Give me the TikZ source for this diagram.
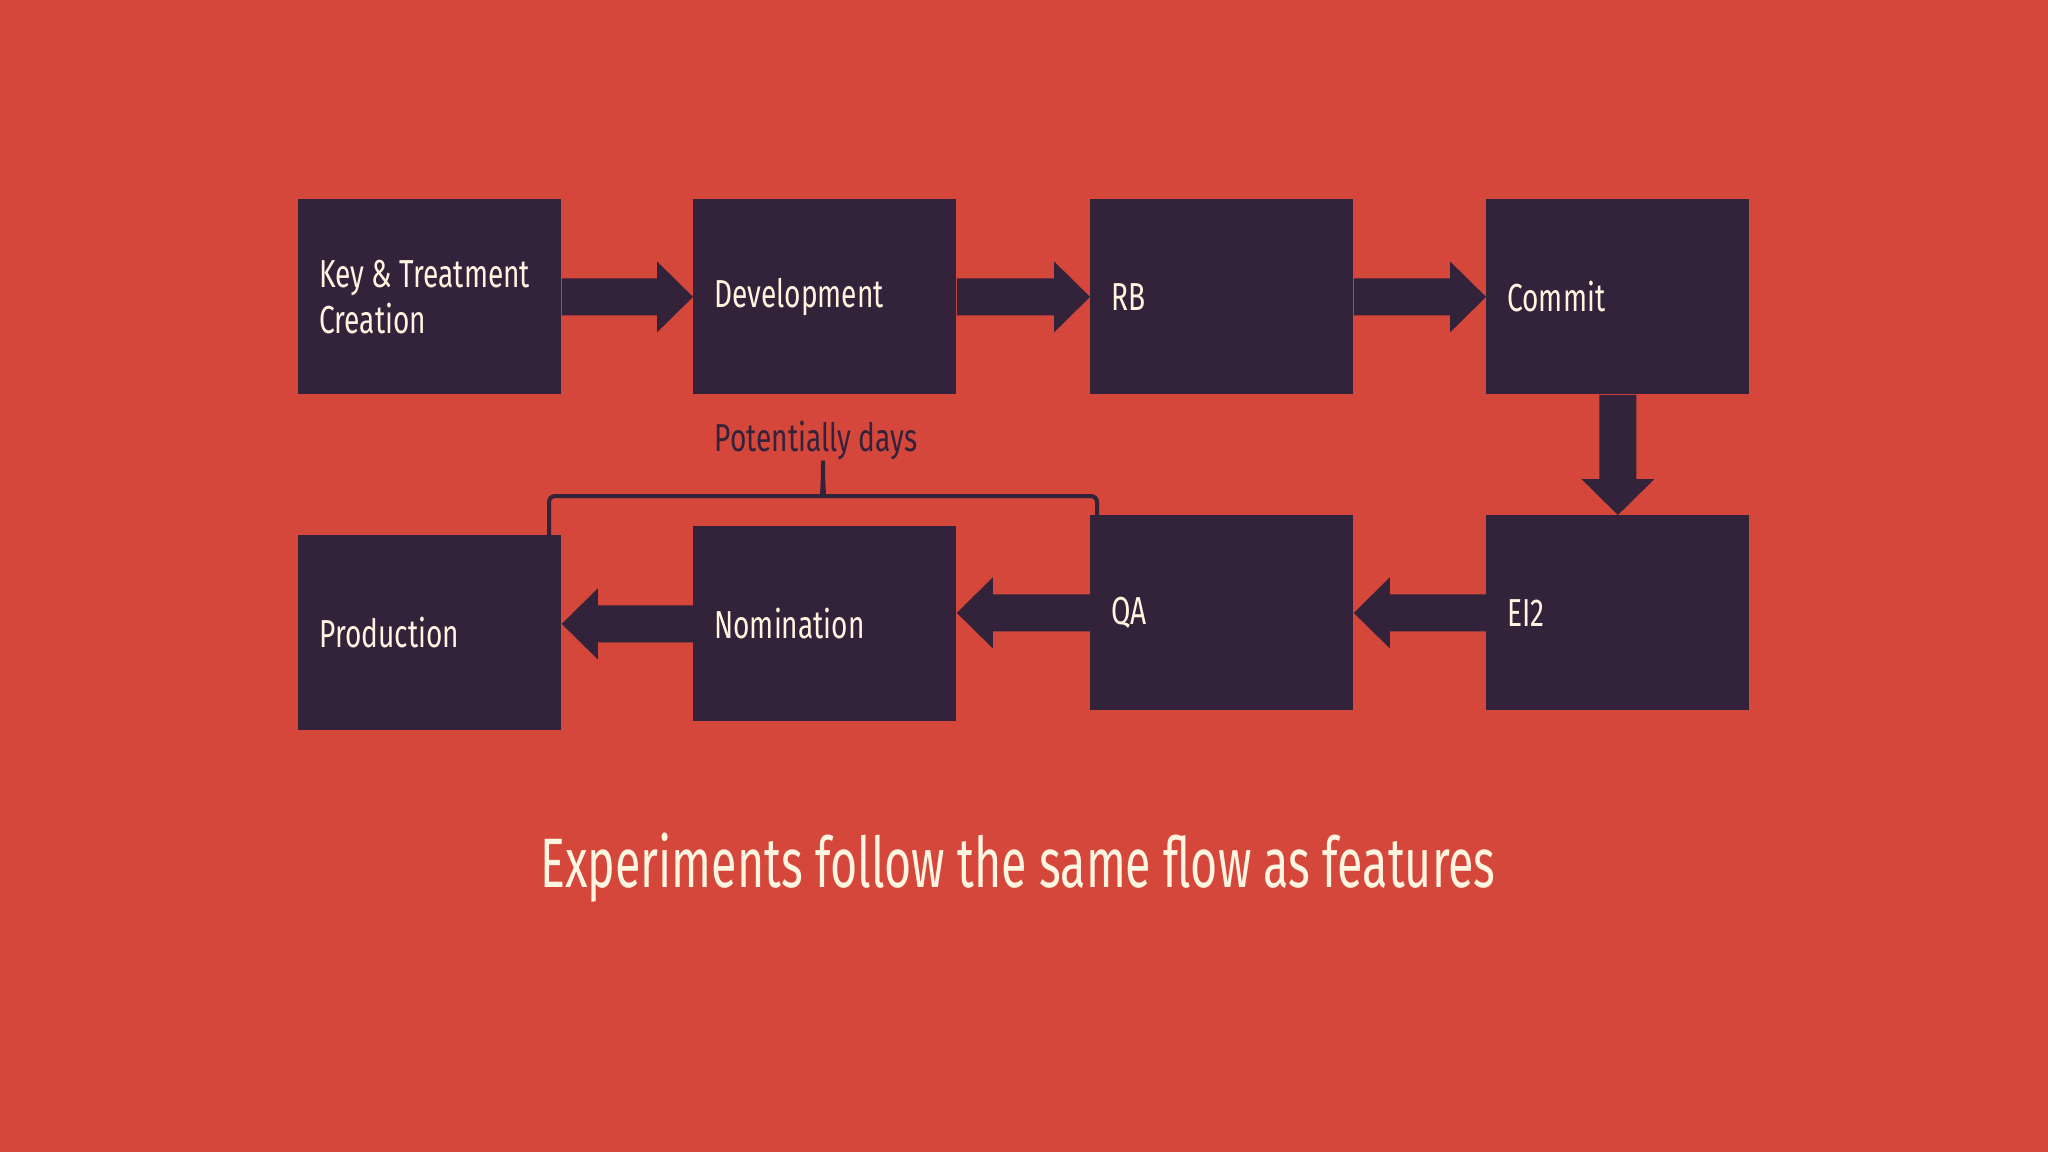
\documentclass[tikz,border=0pt]{standalone}
\usepackage{fontspec}
\setmainfont{Fira Sans}[FakeStretch=0.72]
\newfontfamily\titlefont{Fira Sans}[FakeStretch=0.665]
\usetikzlibrary{calc}
\definecolor{bg}{HTML}{D4473A}
\definecolor{boxc}{HTML}{32223A}
\definecolor{cream}{HTML}{FFF5E1}
\tikzset{
  stagebox/.style={fill=boxc, text=cream, minimum width=131.5pt, minimum height=97.5pt,
    text width=110.5pt, inner xsep=10.5pt, inner ysep=0pt, align=flush left, anchor=north west,
    font=\fontsize{19.5}{23}\selectfont},
  flowfill/.style={fill=boxc},
  bracestyle/.style={draw=boxc, line width=2pt, rounded corners=3pt},
}
\newcommand\flowR[2]{\fill[flowfill] let \p1=(#1.east),\p2=(#2.west) in
  (\x1,\y1+9.25pt) -- (\x2-18pt,\y1+9.25pt) -- (\x2-18pt,\y1+17.75pt) -- (\x2,\y1) --
  (\x2-18pt,\y1-17.75pt) -- (\x2-18pt,\y1-9.25pt) -- (\x1,\y1-9.25pt) -- cycle;}
\newcommand\flowL[2]{\fill[flowfill] let \p1=(#1.west),\p2=(#2.east) in
  (\x1,\y1+9.25pt) -- (\x2+18pt,\y1+9.25pt) -- (\x2+18pt,\y1+17.75pt) -- (\x2,\y1) --
  (\x2+18pt,\y1-17.75pt) -- (\x2+18pt,\y1-9.25pt) -- (\x1,\y1-9.25pt) -- cycle;}
\newcommand\flowD[2]{\fill[flowfill] let \p1=(#1.south),\p2=(#2.north) in
  (\x1-9.25pt,\y1) -- (\x1-9.25pt,\y2+18pt) -- (\x1-18.25pt,\y2+18pt) -- (\x1,\y2) --
  (\x1+18.25pt,\y2+18pt) -- (\x1+9.25pt,\y2+18pt) -- (\x1+9.25pt,\y1) -- cycle;}
\begin{document}
\begin{tikzpicture}[x=0.5pt,y=-0.5pt]
\fill[bg] (0,0) rectangle (2048,1152);
\useasboundingbox (0,0) rectangle (2048,1152);
% top row
\node[stagebox] (key) at (298,199) {\mbox{Key \& Treatment}\\Creation};
\node[stagebox] (dev) at (693,199) {Development};
\node[stagebox] (rb) at (1090,199) {RB};
\node[stagebox] (commit) at (1486,199) {Commit};
% bottom row
\node[stagebox] (prod) at (298,535) {Production};
\node[stagebox] (nom) at (693,526) {Nomination};
\node[stagebox] (qa) at (1090,515) {QA};
\node[stagebox] (ei2) at (1486,515) {EI2};
% connectors
\flowR{key}{dev}
\flowR{dev}{rb}
\flowR{rb}{commit}
\flowD{commit}{ei2}
\flowL{ei2}{qa}
\flowL{qa}{nom}
\flowL{nom}{prod}
% brace
\coordinate (bl) at (549,535);
\coordinate (br) at (1097,516);
\coordinate (bm) at (823,457);
\draw[bracestyle] (bl) -- (549,496) -- (817,496)
  .. controls (821,496) and (823,492) .. (bm)
  .. controls (823,492) and (825,496) .. (829,496) -- (1097,496) -- (br);
\node[text=boxc, font=\fontsize{19.5}{23}\selectfont, anchor=base] (pot) at (816,451) {Potentially days};
% title
\node[text=cream, font=\titlefont\fontsize{35}{40}\selectfont, anchor=base] (title) at (1018,887) {Experiments follow the same flow as features};
\end{tikzpicture}
\end{document}
